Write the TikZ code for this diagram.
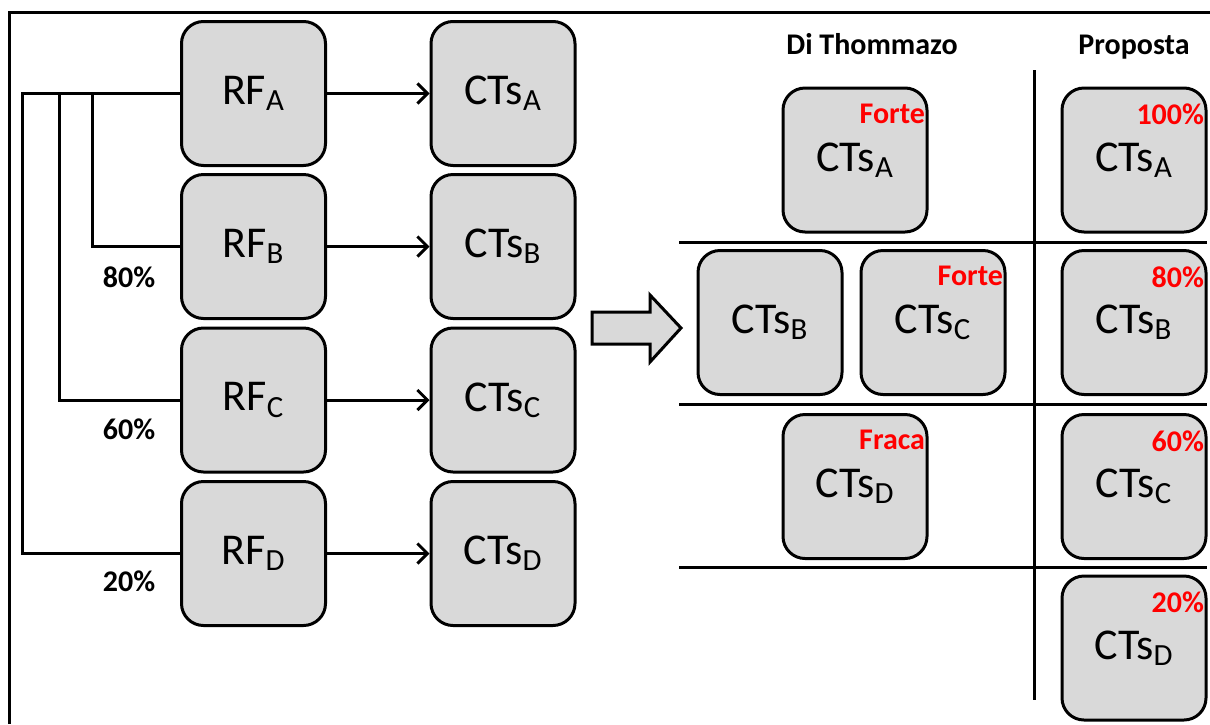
\documentclass[tikz,border=0pt]{standalone}
\usepackage{fontspec}
\setmainfont{Carlito}
\usetikzlibrary{arrows.meta}
\definecolor{boxgray}{RGB}{217,217,217}

\begin{document}
\begin{tikzpicture}[x=0.5pt, y=-0.5pt, line width=1.5pt, >={Straight Barb[length=5pt,width=10pt]}]
\tikzstyle{place}=[draw=black, fill=boxgray, rounded corners=11pt, minimum width=72pt, minimum height=72pt, font=\fontsize{22}{26}\selectfont]
\tikzstyle{tag}=[red, anchor=north east, inner sep=1pt, font=\bfseries\fontsize{15}{18}\selectfont]
\tikzstyle{pct}=[font=\bfseries\fontsize{15}{18}\selectfont]

\useasboundingbox (0,0) rectangle (1210,724);
% Frame
\draw (9,724) -- (9,12) -- (1210,12);

% RF -> CTs
\foreach \l/\y in {A/93.5,B/246.5,C/400,D/553.5}
{
\node at (253.5, \y) [place] (rf_\l) {RF\textsubscript{\l}};
\node at (503, \y) [place] (cts_\l) {CTs\textsubscript{\l}};
\draw [->] (rf_\l) to (cts_\l);
}

% Feed from RF_A
\foreach \l/\x in {B/92,C/59,D/22}
{
\coordinate (bus_\l) at (\x, 93.5);
\draw (rf_A.west) -- (bus_\l) |- (rf_\l.west);
}
\node at (129, 277) [pct] (pct_B) {80\%};
\node at (129, 429) [pct] (pct_C) {60\%};
\node at (129, 581) [pct] (pct_D) {20\%};

% Big arrow
\draw [fill=boxgray] (592,312) -- (650,312) -- (650,295) -- (681,328) -- (650,362) -- (650,344) -- (592,344) -- cycle;

% Text
\node at (872, 54) [pct, anchor=base] (title_dt) {Di Thommazo};
\node at (1134, 54) [pct, anchor=base] (title_pr) {Proposta};

% Grid
\draw (1034,70) -- (1034,700);
\draw (679,242) -- (1207,242);
\draw (679,404) -- (1207,404);
\draw (679,567) -- (1207,567);

% Di Thommazo
\node at (855, 160) [place] (dt_A) {CTs\textsubscript{A}};
\node at (770, 322.5) [place] (dt_B) {CTs\textsubscript{B}};
\node at (933, 322.5) [place] (dt_C) {CTs\textsubscript{C}};
\node at (855, 486.5) [place] (dt_D) {CTs\textsubscript{D}};
\node at ([yshift=-7pt]dt_A.north east) [tag] (tag_dtA) {Forte};
\node at ([yshift=-7pt]dt_C.north east) [tag] (tag_dtC) {Forte};
\node at ([yshift=-7pt]dt_D.north east) [tag] (tag_dtD) {Fraca};

% Proposta
\foreach \l/\y/\p in {A/160/100,B/322.5/80,C/486.5/60,D/648/20}
{
\node at (1134, \y) [place] (pr_\l) {CTs\textsubscript{\l}};
\node at ([yshift=-7pt]pr_\l.north east) [tag] (tag_pr\l) {\p\%};
}
\end{tikzpicture}
\end{document}
